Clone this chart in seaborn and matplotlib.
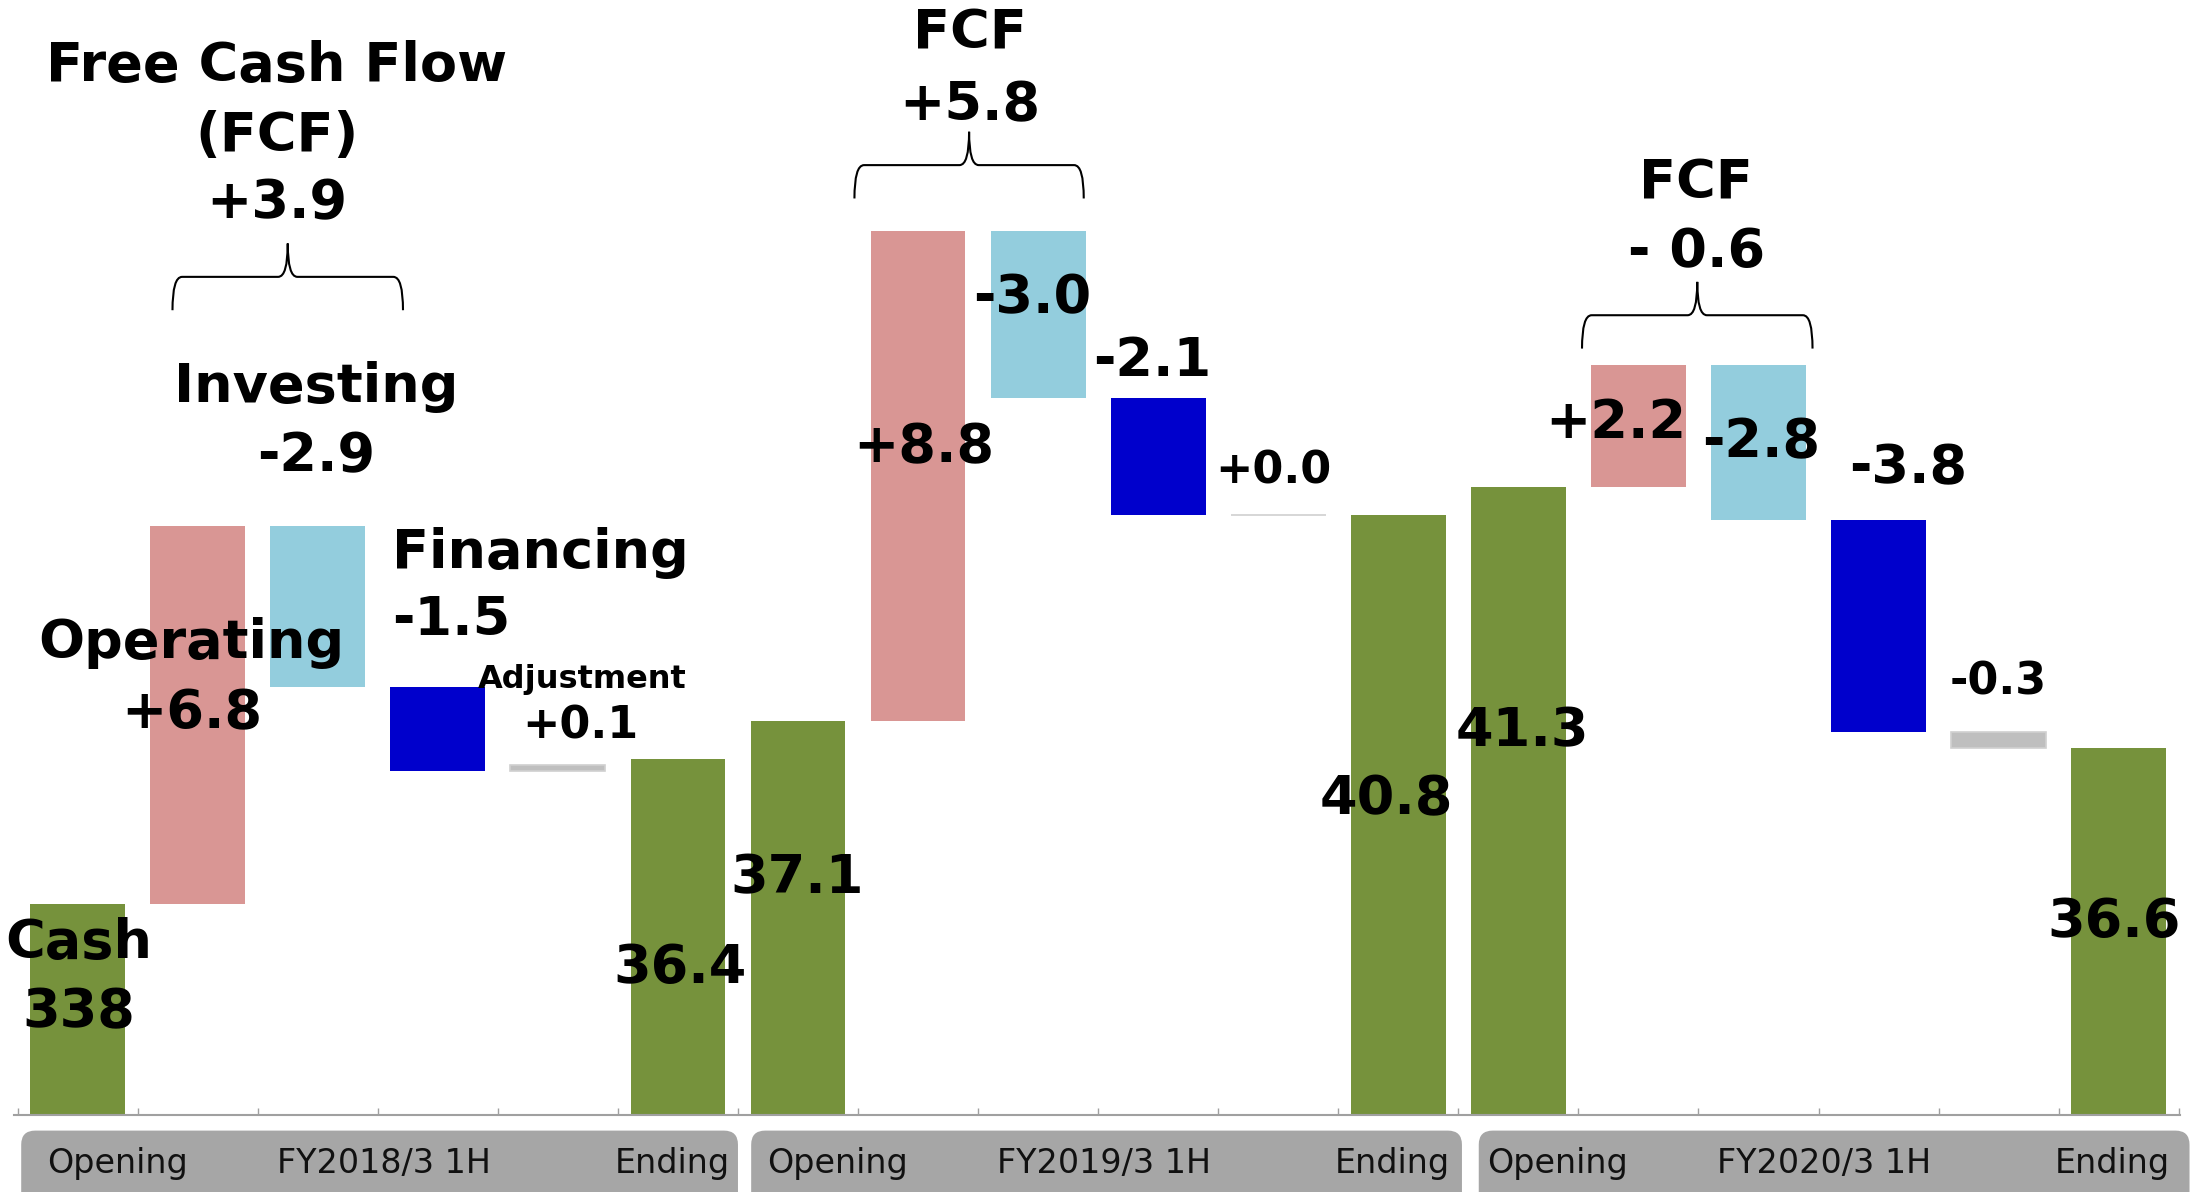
import numpy as np
import pandas as pd
import matplotlib
matplotlib.use("Agg")
import matplotlib.pyplot as plt
from matplotlib.path import Path
from matplotlib.patches import PathPatch, FancyBboxPatch
from matplotlib.transforms import IdentityTransform, blended_transform_factory
import seaborn as sns

# ---------------- data (cash, billions) ----------------
periods = ["FY2018/3 1H", "FY2019/3 1H", "FY2020/3 1H"]
opening = [33.8, 37.1, 41.3]
operating = [6.8, 8.8, 2.2]
investing = [-2.9, -3.0, -2.8]
financing = [-1.5, -2.1, -3.8]
adjustment = [0.1, 0.0, -0.3]
ending = [36.4, 40.8, 36.6]
opening_labels = ["338", "37.1", "41.3"]
fcf_labels = ["+3.9", "+5.8", "- 0.6"]
tick_labels = ["Opening", "Ending"]

GREEN = "#76923c"
COLORS = {"operating": "#d99694", "investing": "#93cddd",
          "financing": "#0000cc", "adjustment": "#bfbfbf"}
BAR_W = 0.79
BIG, MID, SMALL = 39, 32, 23

# ---------------- waterfall table ----------------
steps = [("operating", operating), ("investing", investing),
         ("financing", financing), ("adjustment", adjustment)]
rows = []
for g in range(len(periods)):
    base = g * 6
    run = opening[g]
    rows.append(dict(pos=base, kind="total", bottom=0.0, height=opening[g]))
    for k, (name, vals) in enumerate(steps, start=1):
        d = vals[g]
        rows.append(dict(pos=base + k, kind=name, bottom=min(run, run + d), height=abs(d)))
        run += d
    rows.append(dict(pos=base + 5, kind="total", bottom=0.0, height=ending[g]))
df = pd.DataFrame(rows)

# ---------------- figure ----------------
sns.set_theme(style="white")
plt.rcParams["font.family"] = ["DejaVu Sans"]

fig = plt.figure(figsize=(21.94, 11.92), dpi=100)
ax = fig.add_axes([0.00638, 0.0644, 0.9872, 0.9356])

totals = df[df["kind"] == "total"]
sns.barplot(data=totals, x="pos", y="height", native_scale=True, width=BAR_W,
            color=GREEN, saturation=1, errorbar=None, linewidth=0, ax=ax)

for name, c in COLORS.items():
    sub = df[df["kind"] == name]
    if name == "adjustment":
        ax.bar(sub["pos"], sub["height"], bottom=sub["bottom"], width=BAR_W,
               color=c, edgecolor="#d0d0d0", linewidth=1.2, zorder=2)
    else:
        ax.bar(sub["pos"], sub["height"], bottom=sub["bottom"], width=BAR_W,
               color=c, linewidth=0, zorder=2)

ax.set_xlim(-0.53, 17.51)
ax.set_ylim(30, 50.06)
ax.set_yticks([])
ax.set_xticks(np.arange(-0.5, 18, 1.0))
ax.set_xticklabels([])
ax.tick_params(axis="x", direction="in", length=5, width=1, color="#a0a0a0",
               bottom=True, labelbottom=False)
ax.set_xlabel("")
ax.set_ylabel("")
for s in ["left", "right", "top"]:
    ax.spines[s].set_visible(False)
ax.spines["bottom"].set_color("#a0a0a0")
ax.spines["bottom"].set_linewidth(1.5)


# ---------------- braces ----------------
def brace(x0, x1, y, h=0.6, r=0.08):
    xm = (x0 + x1) / 2
    verts = [(x0, y - h), (x0, y), (x0 + r, y),
             (xm - r, y), (xm, y), (xm, y + h),
             (xm, y), (xm + r, y),
             (x1 - r, y), (x1, y), (x1, y - h)]
    codes = [Path.MOVETO, Path.CURVE3, Path.CURVE3,
             Path.LINETO, Path.CURVE3, Path.CURVE3,
             Path.CURVE3, Path.CURVE3,
             Path.LINETO, Path.CURVE3, Path.CURVE3]
    ax.add_patch(PathPatch(Path(verts, codes), fill=False, lw=1.5,
                           edgecolor="black", clip_on=False))


brace(0.79, 2.71, 45.08)
brace(6.47, 8.38, 47.09)
brace(12.53, 14.45, 44.39)


# ---------------- labels ----------------
def lab(text, x, y, size=BIG, ha="center"):
    ax.text(x, y - 0.05, text, fontsize=size, fontweight="bold", ha=ha, va="center",
            color="black", clip_on=False, zorder=5)


def fmt(v):
    return f"{v:+.1f}"


# FY2018/3 1H
lab("Free Cash Flow", 1.66, 48.92)
lab("(FCF)", 1.66, 47.66)
lab(fcf_labels[0], 1.66, 46.46)
lab("Investing", 1.99, 43.14)
lab(fmt(investing[0]), 1.99, 41.91)
lab("Financing", 2.62, 40.17, ha="left")
lab(fmt(financing[0]), 2.62, 38.96, ha="left")
lab("Operating", 0.95, 38.54)
lab(fmt(operating[0]), 0.95, 37.28)
lab("Adjustment", 4.20, 37.88, size=SMALL)
lab(fmt(adjustment[0]), 4.19, 37.05, size=MID)
lab("Cash", 0.006, 33.15)
lab(opening_labels[0], 0.006, 31.91)
lab(f"{ending[0]:.1f}", 5.02, 32.70)

# FY2019/3 1H
lab(opening_labels[1], 5.99, 34.31)
lab("FCF", 7.43, 49.51)
lab(fcf_labels[1], 7.43, 48.22)
lab(fmt(operating[1]), 7.05, 42.06)
lab(fmt(investing[1]), 7.95, 44.75)
lab(fmt(financing[1]), 8.95, 43.62)
lab(fmt(adjustment[1]), 9.96, 41.63, size=MID)
lab(f"{ending[1]:.1f}", 10.90, 35.74)

# FY2020/3 1H
lab(opening_labels[2], 12.03, 36.95)
lab("FCF", 13.48, 46.81)
lab(fcf_labels[2], 13.48, 45.58)
lab(fmt(operating[2]), 12.81, 42.51)
lab(fmt(investing[2]), 14.02, 42.16)
lab(fmt(financing[2]), 15.25, 41.68)
lab(fmt(adjustment[2]), 16.00, 37.85, size=MID)
lab(f"{ending[2]:.1f}", 16.96, 33.52)

# ---------------- period boxes under the axis ----------------
box_spans = [(-0.47, 5.50), (5.61, 11.53), (11.67, 17.59)]
bt = blended_transform_factory(ax.transData, ax.transAxes)
for g, (x0, x1) in enumerate(box_spans):
    px0 = ax.transData.transform((x0, 30))[0]
    px1 = ax.transData.transform((x1, 30))[0]
    ax.add_patch(FancyBboxPatch((px0, -40), px1 - px0, 101.4,
                                boxstyle="round,pad=0,rounding_size=14",
                                facecolor="#a6a6a6", edgecolor="none",
                                transform=IdentityTransform(), clip_on=False, zorder=1))
    base = g * 6
    for xoff, txt in [(0.33, tick_labels[0]), (2.55, periods[g]), (4.95, tick_labels[1])]:
        ax.text(base + xoff, -0.0435, txt, transform=bt, fontsize=24,
                ha="center", va="center", color="#111111", clip_on=False, zorder=3)

fig.savefig("out.png", dpi=100, facecolor="white")
